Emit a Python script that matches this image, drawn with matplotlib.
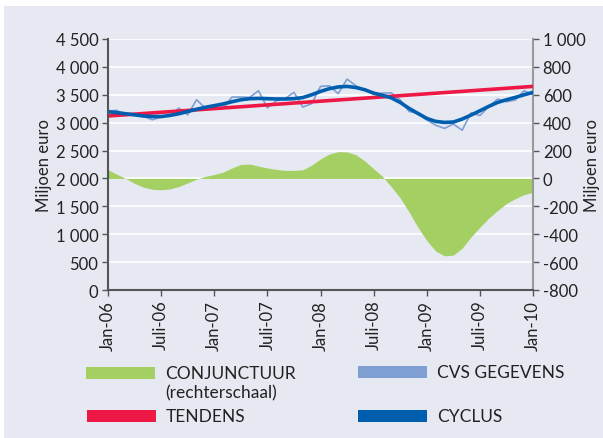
import numpy as np
import matplotlib
matplotlib.use("Agg")
import matplotlib.pyplot as plt
from matplotlib.patches import Rectangle

plt.rcParams['font.family'] = ['Lato', 'DejaVu Sans']

# monthly Jan-06 .. Jan-10
tick_labels = ["Jan-06", "Juli-06", "Jan-07", "Juli-07", "Jan-08",
               "Juli-08", "Jan-09", "Juli-09", "Jan-10"]

cvs = [3210, 3220, 3136, 3136, 3112, 3052, 3100, 3124, 3262, 3140,
       3410, 3260, 3262, 3256, 3458, 3460, 3453, 3572, 3265, 3390,
       3430, 3545, 3280, 3340, 3650, 3660, 3520, 3781, 3660, 3590,
       3513, 3530, 3535, 3410, 3200, 3170, 3050, 2955, 2897, 2975,
       2865, 3175, 3128, 3285, 3423, 3375, 3405, 3572, 3495]

cyclus = [3195, 3180, 3160, 3140, 3120, 3110, 3110, 3130, 3160, 3200,
          3240, 3275, 3305, 3335, 3375, 3410, 3430, 3435, 3430, 3425,
          3425, 3430, 3450, 3500, 3560, 3610, 3640, 3650, 3630, 3590,
          3530, 3490, 3445, 3363, 3256, 3166, 3076, 3023, 3005, 3011,
          3065, 3136, 3213, 3292, 3363, 3410, 3453, 3500, 3543]

# trend line, read at each January
tendens_x = [0, 12, 24, 36, 48]
tendens = [3120, 3252, 3385, 3517, 3650]

conjunctuur = [62, 30, 0, -35, -62, -78, -81, -75, -58, -32,
               -5, 15, 28, 45, 75, 100, 103, 88, 75, 65,
               58, 58, 62, 95, 140, 175, 192, 190, 170, 125,
               70, 15, -60, -140, -240, -350, -445, -520, -555, -550,
               -500, -420, -350, -285, -230, -180, -145, -115, -100]

GREEN = "#a4cf62"
LIGHTBLUE = "#7f9fd3"
RED = "#ee1846"
DARKBLUE = "#005eaf"
PANEL = "#e6e9f1"
PLOTBG = "#d1d8e2"
TXT = "#222222"

x = np.arange(len(cvs))

fig = plt.figure(figsize=(6.03, 4.39), dpi=100)
fig.patch.set_facecolor("white")
fig.patches.append(Rectangle((4 / 603, 0), 1, 432 / 439, transform=fig.transFigure,
                             facecolor=PANEL, edgecolor="none", zorder=-10))

ax = fig.add_axes([108 / 603, 1 - 291 / 439, 425 / 603, 251 / 439])
ax2 = ax.twinx()
ax.set_zorder(2)
ax2.set_zorder(1)
ax.patch.set_visible(False)
ax2.patch.set_facecolor(PLOTBG)

# conjunctuur on right scale, behind the lines
ax2.fill_between(x, conjunctuur, 0, color=GREEN, lw=0, zorder=2)
ax2.set_ylim(-800, 1000)
ax2.set_yticks(range(-800, 1001, 200))
ax2.set_yticklabels([f"{v:,}".replace(",", " ") for v in range(-800, 1001, 200)])
ax2.grid(axis="y", color="white", lw=1.2)
ax2.set_axisbelow(True)
ax2.set_ylabel("Miljoen euro", fontsize=12, color=TXT, va="center")
ax2.yaxis.set_label_coords((592 - 108) / 425, 0.5)

ax.plot(x, cvs, color=LIGHTBLUE, lw=1.2)
ax.plot(tendens_x, tendens, color=RED, lw=2.6)
ax.plot(x, cyclus, color=DARKBLUE, lw=2.6)
ax.set_ylim(0, 4500)
ax.set_yticks(range(0, 4501, 500))
ax.set_yticklabels([f"{v:,}".replace(",", " ") for v in range(0, 4501, 500)])
ax.set_xlim(0, 48)
ax.set_xticks(range(0, 49, 6))
ax.set_xticklabels(tick_labels, rotation=90)
ax.set_ylabel("Miljoen euro", fontsize=12, color=TXT, va="center")
ax.yaxis.set_label_coords((44 - 108) / 425, 0.5)

for a in (ax, ax2):
    a.spines["top"].set_visible(False)
    a.tick_params(labelsize=12, colors=TXT, length=4, width=1, pad=3)
ax.spines["left"].set_color("#555555")
ax.spines["left"].set_linewidth(1.5)
ax.spines["bottom"].set_color("#555555")
ax.spines["bottom"].set_linewidth(1.5)
ax.spines["right"].set_visible(False)
ax2.spines["left"].set_visible(False)
ax2.spines["bottom"].set_visible(False)
ax2.spines["right"].set_color("#999999")
ax2.spines["right"].set_linewidth(1.5)
ax.tick_params(axis="both", colors="#555555", labelcolor=TXT)
ax2.tick_params(axis="y", colors="#555555", labelcolor=TXT)

# legend drawn by hand below the plot
def legend_item(px, py, color, label):
    fig.patches.append(Rectangle((px / 603, 1 - (py + 6) / 439), 69 / 603, 12 / 439,
                                 transform=fig.transFigure, facecolor=color,
                                 edgecolor="none"))
    fig.text((px + 79) / 603, 1 - py / 439, label, fontsize=12.5, color=TXT,
             va="center", ha="left")

legend_item(86, 374, GREEN, "CONJUNCTUUR")
fig.text(165 / 603, 1 - 393 / 439, "(rechterschaal)", fontsize=12.5, color=TXT,
         va="center", ha="left")
legend_item(87, 417, RED, "TENDENS")
legend_item(358, 373, LIGHTBLUE, "CVS GEGEVENS")
legend_item(358, 417, DARKBLUE, "CYCLUS")

fig.savefig("out.png", dpi=100, facecolor=fig.get_facecolor())
